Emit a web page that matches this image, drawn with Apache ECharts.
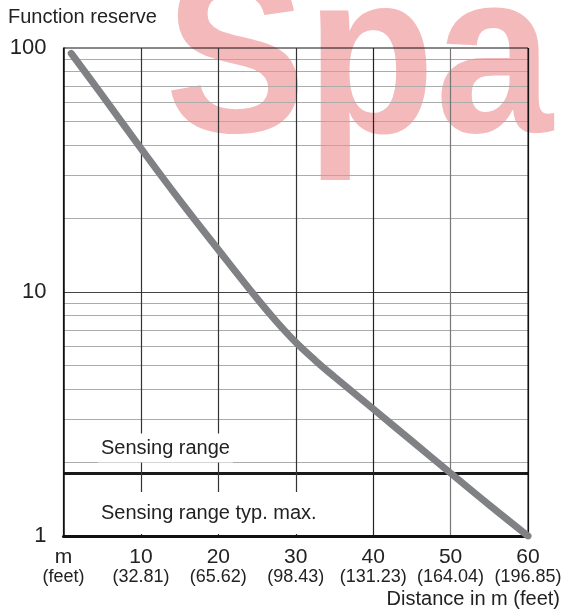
<!DOCTYPE html>
<html>
<head>
<meta charset="utf-8">
<script src="https://cdn.jsdelivr.net/npm/echarts@6/dist/echarts.min.js"></script>
<style>html,body{margin:0;padding:0;background:#fff;}#c{width:565px;height:614px;}</style>
</head>
<body>
<div id="c"></div>
<script>
var distance = [1, 5, 10, 15, 20, 25, 27.5, 30, 32.5, 35, 40, 45, 50, 55, 60];
var reserve = [95, 64, 38.8, 23.8, 14.9, 9.4, 7.57, 6.22, 5.25, 4.49, 3.32, 2.45, 1.81, 1.34, 1.0];
var xTicksTop = ['m', '10', '20', '30', '40', '50', '60'];
var xTicksBottom = ['(feet)', '(32.81)', '(65.62)', '(98.43)', '(131.23)', '(164.04)', '(196.85)'];
var minorGrid = [2, 3, 4, 5, 6, 7, 8, 9, 20, 30, 40, 50, 60, 70, 80, 90];
var majorGrid = [10];
var sensingRange = 1.8;

var FONT = '"Liberation Sans", Arial, sans-serif';
var chart = echarts.init(document.getElementById('c'), null, {renderer: 'canvas'});

var markData = [];
minorGrid.forEach(function (v) {
  markData.push({yAxis: v, lineStyle: {color: '#ababab', width: 1.2, type: 'solid'}});
});
majorGrid.forEach(function (v) {
  markData.push({yAxis: v, lineStyle: {color: '#444', width: 1.2, type: 'solid'}});
});
markData.push({yAxis: sensingRange, lineStyle: {color: '#1a1a1a', width: 2.8, type: 'solid'}});

var option = {
  backgroundColor: '#fff',
  animation: false,
  grid: {left: 63.5, right: 37, top: 48, bottom: 78, show: true, zlevel: 1, z: 5, borderColor: '#111', borderWidth: 1, backgroundColor: 'transparent'},
  xAxis: {
    type: 'value', min: 0, max: 60, interval: 10, zlevel: 1, z: 5,
    axisLine: {show: true, onZero: false, lineStyle: {color: '#111', width: 3}},
    axisTick: {show: false},
    splitLine: {show: true, lineStyle: {color: ['#111', '#333', '#333', '#333', '#222', '#777', '#111'], width: 1.2}},
    axisLabel: {
      margin: 11,
      formatter: function (v) {
        var i = Math.round(v / 10);
        return '{a|' + xTicksTop[i] + '}\n{b|' + xTicksBottom[i] + '}';
      },
      rich: {
        a: {fontSize: 21, lineHeight: 21, color: '#222', fontFamily: FONT, align: 'center'},
        b: {fontSize: 18, lineHeight: 19, color: '#222', fontFamily: FONT, align: 'center'}
      }
    }
  },
  yAxis: {
    type: 'log', logBase: 10, min: 1, max: 100, zlevel: 1, z: 5,
    axisLine: {show: true, lineStyle: {color: '#111', width: 1.5}},
    axisTick: {show: false},
    splitLine: {show: false},
    minorTick: {show: false},
    axisLabel: {margin: 17, fontSize: 22, color: '#222', fontFamily: FONT}
  },
  graphic: {
    elements: [
      {type: 'text', zlevel: 0, z: 0, silent: true, scaleX: 0.97, scaleY: 1.06, x: 165, y: 184,
        style: {text: 'Spa', x: 0, y: 0, font: 'bold 218px "Liberation Sans", Arial, sans-serif', fill: '#f4b9ba', textAlign: 'left', textVerticalAlign: 'bottom'}},
      {type: 'text', zlevel: 1, left: 8, top: 7, z: 20, style: {text: 'Function reserve', font: '20px ' + FONT, fill: '#222'}},
      {type: 'text', zlevel: 1, right: 5, top: 589, z: 20, style: {text: 'Distance in m (feet)', font: '20px ' + FONT, fill: '#222'}},
      {type: 'text', zlevel: 1, z: 50, style: {text: 'Sensing range', x: 98, y: 448, font: '20px ' + FONT, fill: '#222', textVerticalAlign: 'middle', backgroundColor: '#fff', padding: [5, 3, 4, 3]}},
      {type: 'text', zlevel: 1, z: 50, style: {text: 'Sensing range typ. max.', x: 98, y: 513, font: '20px ' + FONT, fill: '#222', textVerticalAlign: 'middle', backgroundColor: '#fff', padding: [15, 3, 7, 3]}}
    ]
  },
  series: [
    {
      type: 'line', data: distance.map(function (d, i) { return [d, reserve[i]]; }),
      smooth: 0.4, showSymbol: false, zlevel: 1, z: 10,
      lineStyle: {color: '#808184', width: 7, cap: 'round'},
      markLine: {silent: true, symbol: 'none', label: {show: false}, data: markData}
    }
  ]
};
chart.setOption(option);
</script>
</body>
</html>
